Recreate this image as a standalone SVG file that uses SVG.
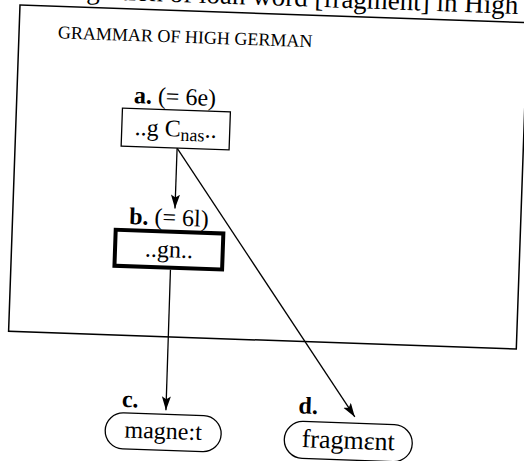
<svg xmlns="http://www.w3.org/2000/svg" width="524" height="461" viewBox="0 0 524 461">
<defs>
<style>
text{font-family:"Liberation Serif","Times New Roman",serif;fill:#000}
.frame{fill:none;stroke:#000;stroke-width:1.5}
.box{fill:#fff;stroke:#000;stroke-width:1.3}
.thick{fill:#fff;stroke:#000;stroke-width:4}
.pill{fill:#fff;stroke:#000;stroke-width:1.3}
.conn{fill:none;stroke:#000;stroke-width:1.3}
.lbl{font-size:24px}
.node{font-size:24px}
</style>
<marker id="ah" markerUnits="userSpaceOnUse" markerWidth="15" markerHeight="10" refX="14" refY="4.5" orient="auto">
<path d="M0,0 L14,4.5 L0,9 L3,4.5 Z" fill="#000"/>
</marker>
</defs>
<rect width="524" height="461" fill="#fff"/>
<g transform="rotate(2 20 5)">
<text id="title" x="518" y="-3.5" text-anchor="end" style="font-size:27px">Integration of loan word [fragment] in High</text>
<g id="grammar">
<rect class="frame" x="20" y="5" width="508" height="326.5"/>
<text x="59" y="37" style="font-size:18px">GRAMMAR OF HIGH GERMAN</text>
</g>
<g id="connectors">
<line class="conn" x1="182" y1="142.6" x2="182" y2="203" marker-end="url(#ah)"/>
<line class="conn" x1="182" y1="142.6" x2="369" y2="405" marker-end="url(#ah)"/>
<line class="conn" x1="179.6" y1="264.4" x2="180" y2="405" marker-end="url(#ah)"/>
</g>
<g id="node-a">
<text class="lbl" x="137" y="99"><tspan font-weight="bold">a.</tspan> (= 6e)</text>
<rect class="box" x="126" y="104.5" width="108" height="38"/>
<text class="node" x="180" y="131" text-anchor="middle">..g C<tspan font-size="18px" dy="4">nas</tspan><tspan dy="-4">..</tspan></text>
</g>
<g id="node-b">
<text class="lbl" x="136.5" y="220"><tspan font-weight="bold">b.</tspan> (= 6l)</text>
<rect class="thick" x="123.5" y="226.3" width="107.7" height="36"/>
<text class="node" x="177.5" y="252" text-anchor="middle">..gn..</text>
</g>
<g id="node-c">
<text class="lbl" x="135.7" y="403" font-weight="bold">c.</text>
<rect class="pill" x="120" y="409" width="116" height="36" rx="18" ry="18"/>
<text class="node" x="178" y="433.5" text-anchor="middle">magne:t</text>
</g>
<g id="node-d">
<text class="lbl" x="312.4" y="403.3" font-weight="bold">d.</text>
<rect class="pill" x="299.3" y="411.3" width="128" height="37" rx="18.5" ry="18.5"/>
<text class="node" x="363.3" y="437" text-anchor="middle" style="font-size:26px">fragmɛnt</text>
</g>
</g>
</svg>
